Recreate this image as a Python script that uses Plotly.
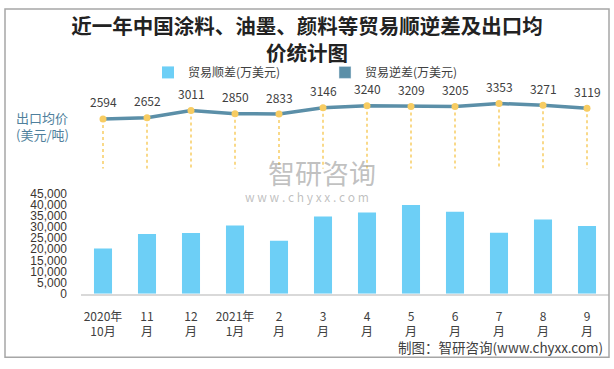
import plotly.graph_objects as go

# ---------------- data ----------------
months = ["2020年10月", "2020年11月", "2020年12月", "2021年1月", "2021年2月", "2021年3月",
          "2021年4月", "2021年5月", "2021年6月", "2021年7月", "2021年8月", "2021年9月"]
tick_labels = ["2020年<br>10月", "11<br>月", "12<br>月", "2021年<br>1月", "2<br>月", "3<br>月",
               "4<br>月", "5<br>月", "6<br>月", "7<br>月", "8<br>月", "9<br>月"]
trade_surplus = [20300, 26800, 27300, 30700, 23800, 34700, 36500, 39900, 36900, 27400, 33400, 30400]
export_price = [2594, 2652, 3011, 2850, 2833, 3146, 3240, 3209, 3205, 3353, 3271, 3119]
bar_ticks = list(range(0, 45001, 5000))

# ---------------- styles ----------------
W, H = 614, 369
FONT = "Noto Sans CJK SC, Liberation Sans, sans-serif"
NUM_FONT = "Liberation Sans, Noto Sans, sans-serif"
BAR_COLOR = "#6dcff6"
LINE_COLOR = "#5b8fa8"
GOLD = "#f7cc62"
TEXT = "#404040"
PRICE_RANGE = [141, 4031]


def px_x(x):
    return x / W


def px_y(y):
    return 1 - y / H


fig = go.Figure()

fig.add_trace(go.Bar(
    x=months, y=trade_surplus, name="贸易顺差(万美元)",
    marker=dict(color=BAR_COLOR, line=dict(width=0)),
    xaxis="x", yaxis="y", showlegend=True,
))

# legend-only entry for the second series name
fig.add_trace(go.Bar(
    x=[months[0]], y=[None], name="贸易逆差(万美元)",
    marker=dict(color=LINE_COLOR), xaxis="x", yaxis="y", showlegend=True,
    hoverinfo="skip",
))

# dotted drop lines from price points
drop_x, drop_y = [], []
for m, v in zip(months, export_price):
    drop_x += [m, m, None]
    drop_y += [v, PRICE_RANGE[0], None]
fig.add_trace(go.Scatter(
    x=drop_x, y=drop_y, mode="lines",
    line=dict(color=GOLD, width=1.5, dash="dot"),
    xaxis="x", yaxis="y2", showlegend=False, hoverinfo="skip",
))

fig.add_trace(go.Scatter(
    x=months, y=export_price, mode="lines",
    line=dict(color=LINE_COLOR, width=3.5),
    xaxis="x", yaxis="y2", showlegend=False,
))
fig.add_trace(go.Scatter(
    x=months, y=export_price, mode="markers",
    marker=dict(color=GOLD, size=7),
    xaxis="x", yaxis="y2", showlegend=False,
))

annotations = []
for m, v in zip(months, export_price):
    annotations.append(dict(
        x=m, y=v, xref="x", yref="y2", text=str(v), showarrow=False,
        yshift=17, font=dict(size=12, color=TEXT, family=FONT),
    ))

annotations += [
    dict(x=px_x(14), y=px_y(124), xref="paper", yref="paper", xanchor="left", yanchor="middle",
         text="出口均价<br>(美元/吨)", showarrow=False, align="left",
         font=dict(size=13, color="#4f7f9c", family=FONT)),
    dict(x=px_x(322), y=px_y(172), xref="paper", yref="paper", xanchor="center", yanchor="middle",
         text="智研咨询", showarrow=False,
         font=dict(size=27, color="rgba(140,140,140,0.55)", family=FONT)),
    dict(x=px_x(307), y=px_y(197), xref="paper", yref="paper", xanchor="center", yanchor="middle",
         text="w w w . c h y x x . c o m", showarrow=False,
         font=dict(size=12, color="rgba(140,140,140,0.55)", family=FONT)),
    dict(x=px_x(605), y=px_y(353), xref="paper", yref="paper", xanchor="right", yanchor="middle",
         text="制图：智研咨询(www.chyxx.com)", showarrow=False,
         font=dict(size=13.5, color=TEXT, family=FONT)),
]

fig.update_layout(
    width=W, height=H,
    margin=dict(l=0, r=0, t=0, b=0),
    paper_bgcolor="white", plot_bgcolor="white",
    font=dict(family=FONT, color=TEXT, size=12),
    title=dict(
        text="<b>近一年中国涂料、油墨、颜料等贸易顺逆差及出口均<br>价统计图</b>",
        x=0.5, xanchor="center", y=px_y(34), yanchor="middle",
        font=dict(size=20.5, color="#222222", family=FONT),
    ),
    legend=dict(
        orientation="h", x=px_x(148), xanchor="left", y=px_y(68), yanchor="middle",
        font=dict(size=12, color=TEXT, family=FONT), bgcolor="rgba(0,0,0,0)",
        entrywidth=132, entrywidthmode="pixels", traceorder="normal",
    ),
    barmode="overlay",
    bargap=0.59,
    xaxis=dict(
        domain=[px_x(81), px_x(609)], anchor="y",
        categoryorder="array", categoryarray=months,
        tickvals=months, ticktext=tick_labels,
        showline=True, linecolor="#d9d9d9", linewidth=1.5,
        ticks="", showgrid=False, zeroline=False,
        ticklabelstandoff=11,
        tickfont=dict(size=12, color=TEXT, family=FONT),
        range=[-0.5, 11.5],
    ),
    yaxis=dict(
        domain=[px_y(298), px_y(194)], range=[0, 45000],
        tickvals=bar_ticks, tickformat=",",
        showgrid=False, zeroline=False, showline=False, ticks="",
        ticklabelstandoff=13,
        tickfont=dict(size=12, color="#3b3530", family=NUM_FONT),
    ),
    yaxis2=dict(
        domain=[px_y(168), px_y(86)], range=PRICE_RANGE, anchor="x",
        visible=False, showgrid=False, zeroline=False,
    ),
    annotations=annotations,
    shapes=[dict(type="rect", xref="paper", yref="paper",
                 x0=px_x(5), x1=px_x(609), y0=px_y(364), y1=px_y(2),
                 line=dict(color="#a6a6a6", width=1.5), fillcolor="rgba(0,0,0,0)")],
)

fig.write_html(
    "out.html",
    config={"displayModeBar": False},
    post_script="document.body.style.margin='0';document.body.style.overflow='hidden';",
)
